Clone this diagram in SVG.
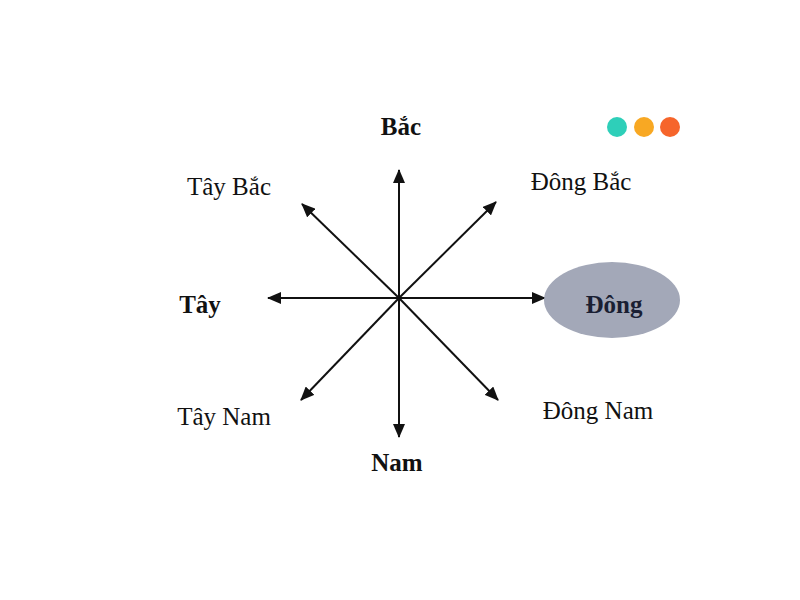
<svg xmlns="http://www.w3.org/2000/svg" width="800" height="600" viewBox="0 0 800 600">
<style>
.t{font-family:"Liberation Serif","Times New Roman",serif;font-size:25px;fill:#111}
.b{font-weight:bold}
.a{stroke:#111;stroke-width:2;fill:none;marker-end:url(#ah)}
</style>
<defs>
<marker id="ah" markerWidth="14" markerHeight="12" refX="13" refY="6" orient="auto" markerUnits="userSpaceOnUse" viewBox="0 0 14 12">
<path d="M0,0 L14,6 L0,12 Z" fill="#111"/>
</marker>
</defs>
<rect width="800" height="600" fill="#fff"/>
<g id="dots">
<circle cx="617" cy="127" r="10" fill="#2ecfb9"/>
<circle cx="644" cy="127" r="10" fill="#f8a823"/>
<circle cx="670" cy="127" r="10" fill="#f6652b"/>
</g>
<g id="connectors">
<line class="a" x1="399" y1="298" x2="399" y2="170"/>
<line class="a" x1="399" y1="298" x2="399" y2="437"/>
<line class="a" x1="399" y1="298" x2="268" y2="298"/>
<line class="a" x1="399" y1="298" x2="545" y2="298"/>
<line class="a" x1="399" y1="298" x2="496" y2="202"/>
<line class="a" x1="399" y1="298" x2="302" y2="204"/>
<line class="a" x1="399" y1="298" x2="301" y2="400"/>
<line class="a" x1="399" y1="298" x2="498" y2="400"/>
</g>
<g id="bac"><text class="t b" x="401" y="135" text-anchor="middle">Bắc</text></g>
<g id="taybac"><text class="t" x="229" y="195" text-anchor="middle">Tây Bắc</text></g>
<g id="dongbac"><text class="t" x="581" y="190" text-anchor="middle">Đông Bắc</text></g>
<g id="tay"><text class="t b" x="200" y="313" text-anchor="middle">Tây</text></g>
<g id="dong">
<ellipse cx="612" cy="300" rx="68" ry="38" fill="#a3a8b8"/>
<text class="t b" x="614" y="313" text-anchor="middle" style="fill:#1a1f33">Đông</text>
</g>
<g id="taynam"><text class="t" x="224" y="425" text-anchor="middle">Tây Nam</text></g>
<g id="nam"><text class="t b" x="397" y="471" text-anchor="middle">Nam</text></g>
<g id="dongnam"><text class="t" x="598" y="419" text-anchor="middle">Đông Nam</text></g>
</svg>
